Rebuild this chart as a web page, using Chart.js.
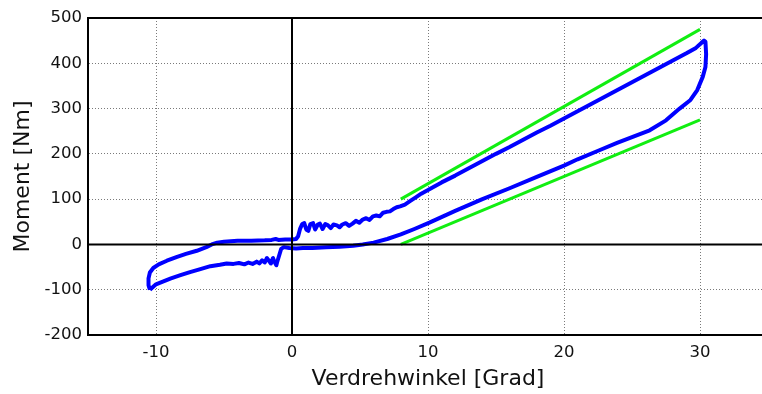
<!DOCTYPE html>
<html>
<head>
<meta charset="utf-8">
<script src="https://cdn.jsdelivr.net/npm/chart.js"></script>
<style>
    html, body { margin: 0; padding: 0; background: #fff; overflow: hidden; }
    #wrap { width: 770px; height: 394px; }
</style>
</head>
<body>
<div id="wrap"><canvas id="myChart"></canvas></div>

<script>
    // hysteresis loop: angle [Grad] and torque [Nm], traced as one closed path
    const loopAngle = [
        -10.45, -10.55, -10.55, -10.45, -10.2, -9.8, -9.2, -8.5, -7.8, -7.0, -6.3, -5.9, -5.5, -5.0, -4.0, -3.0,
        -2.0, -1.5, -1.2, -1.0, -0.5, 0.0, 0.3,
        0.45, 0.6, 0.75, 0.9, 1.05, 1.2, 1.35, 1.55, 1.7, 1.9, 2.05, 2.25, 2.45, 2.65, 2.85, 3.05, 3.3, 3.5,
        3.7, 3.95, 4.2, 4.45, 4.7, 4.95, 5.2, 5.45, 5.7, 5.95, 6.2, 6.45, 6.7, 6.95, 7.2, 7.45, 7.7, 7.95,
        8.3, 8.7, 9.1, 9.5, 10.0, 11, 12, 13, 14, 15, 16, 17, 18, 19, 20, 21, 22, 23, 24, 25, 26, 27, 28, 29,
        29.7, 30.1, 30.3, 30.4, 30.45,
        30.4, 30.2, 29.8, 29.3, 28.5, 27.5, 26.3, 25.1, 23.9, 22.6, 21, 20, 18, 16, 14, 12, 10.1, 9, 8, 7, 6,
        5.2, 4.5, 3.5, 2.5, 1.5, 0.8, 0.3, -0.2, -0.6,
        -0.8, -0.95, -1.1, -1.15, -1.3, -1.4, -1.55, -1.7, -1.85, -2.0, -2.2, -2.4, -2.6, -2.9, -3.2, -3.5,
        -3.9, -4.3, -4.8, -5.3, -6.0, -6.8, -7.5, -8.2, -8.9, -9.5, -10.0, -10.45
    ];
    const loopMoment = [
        -100, -90, -75, -62, -52, -44, -36, -28, -21, -14, -6, 0, 4, 6, 8, 8,
        9, 10, 12, 10, 11, 11, 12,
        18, 35, 45, 47, 33, 30, 45, 47, 33, 44, 46, 34, 45, 42, 36, 44, 42, 38,
        44, 47, 41, 46, 52, 48, 55, 58, 54, 62, 64, 62, 70, 72, 73, 78, 82, 84,
        88, 96, 104, 112, 120, 137, 152, 168, 184, 200, 215, 231, 247, 262, 278, 294, 310, 326, 342, 358, 374, 390, 406, 422,
        434, 445, 450, 448, 420,
        392, 370, 341, 319, 300, 274, 252, 238, 224, 208, 188, 174, 149, 124, 100, 74, 48, 34, 22, 12, 4,
        0, -3, -5, -6, -8, -8, -9, -8, -6,
        -10, -25, -40, -46, -38, -30, -42, -36, -30, -40, -35, -42, -38, -43, -40, -44,
        -41, -43, -42, -45, -48, -55, -61, -68, -75, -82, -88, -100
    ];

    // stiffness reference lines
    const upperRefAngle = [8, 30];
    const upperRefMoment = [100, 475];
    const lowerRefAngle = [8, 30];
    const lowerRefMoment = [0, 275];

    const xTicks = [-10, 0, 10, 20, 30];
    const yTicks = [-200, -100, 0, 100, 200, 300, 400, 500];

    const toPoints = (xs, ys) => xs.map((v, i) => ({ x: v, y: ys[i] }));

    const fontFamily = '"DejaVu Sans", Verdana, sans-serif';

    // black frame top edge and the two zero axes
    const axisLines = {
        id: 'axisLines',
        afterDatasetsDraw(chart) {
            const { ctx, chartArea: a, scales: { x, y } } = chart;
            const x0 = x.getPixelForValue(0);
            const y0 = y.getPixelForValue(0);
            ctx.save();
            ctx.strokeStyle = '#000';
            ctx.lineWidth = 2;
            ctx.beginPath();
            ctx.moveTo(x0, a.top);
            ctx.lineTo(x0, a.bottom);
            ctx.moveTo(a.left, y0);
            ctx.lineTo(a.right, y0);
            ctx.moveTo(a.left - 1, a.top);
            ctx.lineTo(a.right, a.top);
            ctx.stroke();
            ctx.restore();
        }
    };

    const gridColor = c => (c.tick && c.tick.value === 0) ? 'rgba(0,0,0,0)' : '#7a7a7a';

    new Chart(document.getElementById('myChart'), {
        type: 'scatter',
        data: {
            datasets: [
                {
                    data: toPoints(upperRefAngle, upperRefMoment),
                    showLine: true,
                    borderColor: '#11ee11',
                    borderWidth: 3,
                    pointRadius: 0
                },
                {
                    data: toPoints(lowerRefAngle, lowerRefMoment),
                    showLine: true,
                    borderColor: '#11ee11',
                    borderWidth: 3,
                    pointRadius: 0
                },
                {
                    data: toPoints(loopAngle, loopMoment),
                    showLine: true,
                    borderColor: '#0000ff',
                    borderWidth: 4,
                    borderJoinStyle: 'round',
                    pointRadius: 0,
                    tension: 0
                }
            ]
        },
        options: {
            responsive: true,
            maintainAspectRatio: false,
            animation: false,
            layout: { padding: { top: 18, right: 2, bottom: 0, left: 0 } },
            plugins: { legend: { display: false }, tooltip: { enabled: false } },
            scales: {
                x: {
                    type: 'linear',
                    min: -15,
                    max: 35,
                    afterBuildTicks: scale => { scale.ticks = xTicks.map(v => ({ value: v })); },
                    afterFit: scale => { scale.height = 59; },
                    grid: { color: gridColor, lineWidth: 1, drawTicks: false },
                    border: { display: true, color: '#000', width: 2, dash: [1, 2] },
                    ticks: { color: '#111', padding: 8, font: { family: fontFamily, size: 16.5 } },
                    title: {
                        display: true,
                        text: 'Verdrehwinkel [Grad]',
                        color: '#111',
                        font: { family: fontFamily, size: 22 },
                        padding: { top: 0, bottom: 2 }
                    }
                },
                y: {
                    type: 'linear',
                    min: -200,
                    max: 500,
                    afterBuildTicks: scale => { scale.ticks = yTicks.map(v => ({ value: v })); },
                    afterFit: scale => { scale.width = 88; },
                    grid: { color: gridColor, lineWidth: 1, drawTicks: false },
                    border: { display: true, color: '#000', width: 2, dash: [1, 2] },
                    ticks: { color: '#111', padding: 6, font: { family: fontFamily, size: 16.5 } },
                    title: {
                        display: true,
                        text: 'Moment [Nm]',
                        color: '#111',
                        font: { family: fontFamily, size: 22 },
                        padding: { top: 10, bottom: 0 }
                    }
                }
            }
        },
        plugins: [axisLines]
    });
</script>
</body>
</html>
